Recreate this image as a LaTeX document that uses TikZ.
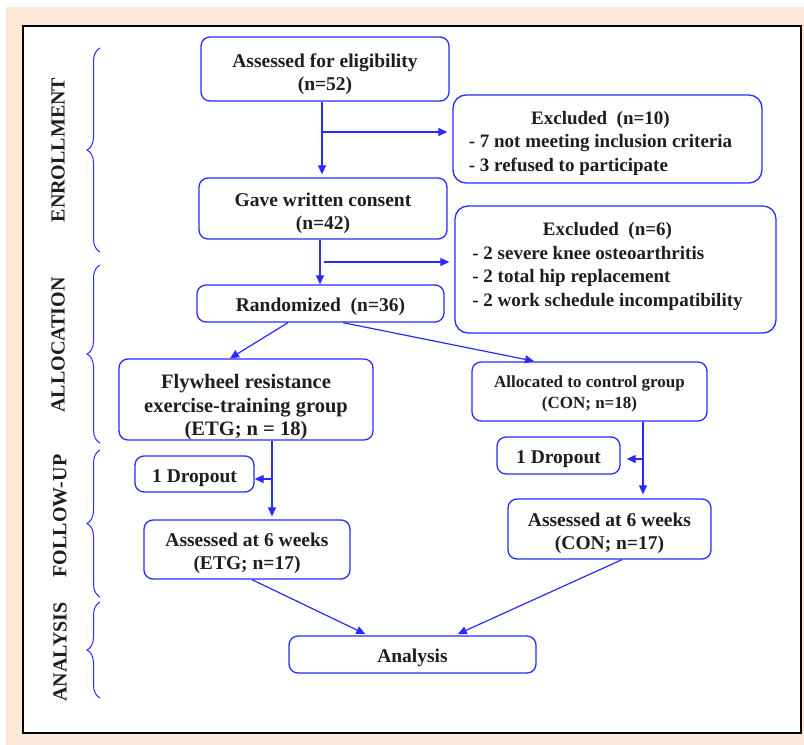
\documentclass[tikz,border=0pt]{standalone}
\usepackage{fontspec}
\setmainfont{Liberation Serif}
\usetikzlibrary{arrows.meta,decorations.pathreplacing}
\definecolor{beige}{HTML}{FBE8D9}
\definecolor{bl}{HTML}{2A2AFF}
\definecolor{txt}{HTML}{1E1E1E}
\begin{document}
\begin{tikzpicture}[x=1pt,y=-1pt,
  box/.style={draw=bl, line width=1.3pt, rounded corners=9pt, fill=white, inner sep=0pt},
  xbox/.style={box, rounded corners=13pt},
  tx/.style={text=txt, font=\bfseries\fontsize{19.5}{23}\selectfont, align=center, inner sep=0pt},
  xtx/.style={tx, font=\bfseries\fontsize{19}{23.5}\selectfont},
  arr/.style={draw=bl, line width=1.2pt, -{Triangle[length=9pt,width=8pt]}},
  br/.style={draw=bl, line width=1pt, decorate, decoration={brace, amplitude=13pt, aspect=0.5}},
  lab/.style={text=txt, font=\bfseries\fontsize{20}{24}\selectfont, rotate=90, inner sep=0pt}]
\useasboundingbox (0,0) rectangle (804,745);
\fill[white] (0,0) rectangle (804,745);
\fill[beige] (6,7) rectangle (804,745);
\draw[black, line width=2pt, fill=white] (23,26) rectangle (801,733);

% phase labels and braces
\node[lab] (lenr) at (58,150) {ENROLLMENT};
\node[lab] (lall) at (58,345) {ALLOCATION};
\node[lab] (lfol) at (60,516) {FOLLOW-UP};
\node[lab] (lana) at (60,652) {ANALYSIS};
\draw[br] (100,252) -- (100,48);
\draw[br] (100,443) -- (100,265);
\draw[br] (100,597) -- (100,450);
\draw[br] (100,698) -- (100,602);

% boxes
\node[box, minimum width=248pt, minimum height=64pt] (assess) at (325,69) {};
\node[xbox, minimum width=309pt, minimum height=88pt] (excl1) at (607.5,139) {};
\node[box, minimum width=248pt, minimum height=61pt] (consent) at (323,208.5) {};
\node[xbox, minimum width=321pt, minimum height=127pt] (excl2) at (615.5,269.5) {};
\node[box, minimum width=247pt, minimum height=37pt] (rand) at (320.5,303.5) {};
\node[box, minimum width=254pt, minimum height=81pt] (fly) at (246,399.5) {};
\node[box, minimum width=235pt, minimum height=59pt] (ctrl) at (589.5,391.5) {};
\node[box, minimum width=119pt, minimum height=36pt] (drop1) at (194.5,474) {};
\node[box, minimum width=206pt, minimum height=59pt] (etg6) at (247,549.5) {};
\node[box, minimum width=123pt, minimum height=37pt] (drop2) at (558.5,455.5) {};
\node[box, minimum width=203pt, minimum height=60pt] (con6) at (609.5,529) {};
\node[box, minimum width=247pt, minimum height=37pt] (anal) at (412.5,654.5) {};

% texts
\node[tx] (assess-t) at ([yshift=-5pt]assess.center) {Assessed for eligibility\\(n=52)};
\node[xtx] (excl1-t) at ([xshift=-7pt,yshift=-4pt]excl1.center)
  {\begin{tabular}{@{}l@{}}\multicolumn{1}{@{}c@{}}{Excluded\ \ (n=10)}\\- 7 not meeting inclusion criteria\\- 3 refused to participate\end{tabular}};
\node[tx] (consent-t) at ([yshift=-5pt]consent.center) {Gave written consent\\(n=42)};
\node[xtx] (excl2-t) at ([xshift=-8pt,yshift=3pt]excl2.center)
  {\begin{tabular}{@{}l@{}}\multicolumn{1}{@{}c@{}}{Excluded\ \ (n=6)}\\- 2 severe knee osteoarthritis\\- 2 total hip replacement\\- 2 work schedule incompatibility\end{tabular}};
\node[tx] (rand-t) at ([yshift=-3pt]rand.center) {Randomized\ \ (n=36)};
\node[tx, font=\bfseries\fontsize{20.5}{23.5}\selectfont] (fly-t) at ([yshift=-8pt]fly.center) {Flywheel resistance\\exercise-training group\\(ETG; n = 18)};
\node[tx, font=\bfseries\fontsize{17}{21}\selectfont] (ctrl-t) at ([yshift=-2pt]ctrl.center) {Allocated to control group\\(CON; n=18)};
\node[tx] (drop1-t) at ([yshift=-4pt]drop1.center) {1 Dropout};
\node[tx] (etg6-t) at ([yshift=-4pt]etg6.center) {Assessed at 6 weeks\\(ETG;\ n=17)};
\node[tx] (drop2-t) at ([yshift=-4pt]drop2.center) {1 Dropout};
\node[tx] (con6-t) at ([yshift=-4pt]con6.center) {Assessed at 6 weeks\\(CON; n=17)};
\node[tx] (anal-t) at ([yshift=-3pt]anal.center) {Analysis};

% connectors
\coordinate (j1) at (322,132);
\coordinate (j2) at (324,262);
\coordinate (j3) at (272,479);
\coordinate (j4) at (643,459);
\draw[arr, shorten >=3pt] ([xshift=-3pt]assess.south) -- ([xshift=-1pt]consent.north);
\draw[arr, shorten >=5pt] (j1) -- (j1 -| excl1.west);
\draw[arr] ([xshift=-3pt]consent.south) -- ([xshift=-0.5pt]rand.north);
\draw[arr, shorten >=5pt] (j2) -- (j2 -| excl2.west);
\draw[arr] ([xshift=-32.5pt]rand.south) -- ([xshift=-16pt]fly.north);
\draw[arr, shorten >=1pt] ([xshift=22.5pt]rand.south) -- ([xshift=-54.5pt]ctrl.north);
\draw[arr, shorten >=3pt] ([xshift=26pt]fly.south) -- ([xshift=25pt]etg6.north);
\draw[arr] (j3) -- (j3 -| drop1.east);
\draw[arr, shorten >=4pt] ([xshift=53.5pt]ctrl.south) -- ([xshift=33.5pt]con6.north);
\draw[arr, shorten >=6pt] (j4) -- (j4 -| drop2.east);
\draw[arr, shorten >=3pt] ([xshift=5pt]etg6.south) -- ([xshift=-44.5pt]anal.north);
\draw[arr, shorten >=3pt] ([xshift=12.5pt]con6.south) -- ([xshift=42.5pt]anal.north);
\end{tikzpicture}
\end{document}
